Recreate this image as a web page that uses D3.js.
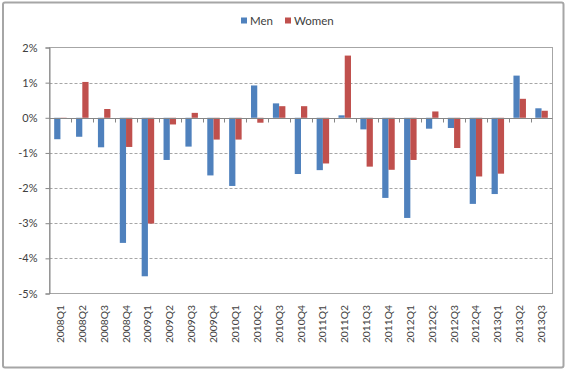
<!DOCTYPE html>
<html>
<head>
<meta charset="utf-8">
<script src="https://cdn.jsdelivr.net/npm/d3@7/dist/d3.min.js"></script>
<style>
html,body{margin:0;padding:0;background:#fff;}
svg{display:block;}
text{font-family:Lato, "Open Sans", sans-serif;fill:#404040;}
</style>
</head>
<body>
<svg id="chart" width="569" height="372"></svg>
<script>
const categories = ["2008Q1","2008Q2","2008Q3","2008Q4","2009Q1","2009Q2","2009Q3","2009Q4",
  "2010Q1","2010Q2","2010Q3","2010Q4","2011Q1","2011Q2","2011Q3","2011Q4",
  "2012Q1","2012Q2","2012Q3","2012Q4","2013Q1","2013Q2","2013Q3"];
const men = [-0.61,-0.54,-0.84,-3.56,-4.51,-1.20,-0.82,-1.64,
  -1.94,0.92,0.41,-1.60,-1.49,0.07,-0.33,-2.28,
  -2.85,-0.31,-0.29,-2.45,-2.17,1.20,0.27];
const women = [-0.03,1.02,0.25,-0.83,-3.01,-0.19,0.14,-0.62,
  -0.62,-0.14,0.33,0.33,-1.30,1.77,-1.39,-1.48,
  -1.20,0.18,-0.86,-1.67,-1.59,0.54,0.20];
const seriesNames = ["Men","Women"];
const seriesColors = ["#4F81BD","#C0504D"];
const yTicks = [2,1,0,-1,-2,-3,-4,-5];

const svg = d3.select("#chart");
const L = 49.5, R = 552.5, T = 47.5, B = 293.5;

// outer border
svg.append("rect").attr("x",3).attr("y",2.5).attr("width",560.5).attr("height",365)
  .attr("fill","#fff").attr("stroke","#a6a6a6").attr("stroke-width",2).attr("rx",2);

const x = d3.scaleBand().domain(categories).range([L,R]).padding(0);
const y = d3.scaleLinear().domain([-5,2]).range([B,T]);

// gridlines
svg.append("g").selectAll("line").data(yTicks.filter(t=>t<2 && t>-5 && t!==0)).join("line")
  .attr("x1",L).attr("x2",R)
  .attr("y1",d=>Math.round(y(d))+0.5).attr("y2",d=>Math.round(y(d))+0.5)
  .attr("stroke","#a6a6a6").attr("stroke-width",1).attr("stroke-dasharray","3,2");

// plot border
svg.append("rect").attr("x",L).attr("y",T).attr("width",R-L).attr("height",B-T)
  .attr("fill","none").attr("stroke","#a6a6a6").attr("stroke-width",1);

// y axis
const yAxis = d3.axisLeft(y).tickValues(yTicks).tickSize(4).tickPadding(8)
  .tickFormat(d=>d+"%");
const gy = svg.append("g").attr("transform",`translate(${L},0)`).call(yAxis);
gy.select(".domain").attr("stroke","#868686");
gy.selectAll(".tick line").attr("stroke","#868686");
gy.selectAll(".tick text").attr("font-size","11px").attr("fill","#404040")
  .attr("font-family","Lato, sans-serif");

// bars
const bw = x.bandwidth()/3.5;
const data = [men, women];
data.forEach((vals,si)=>{
  svg.append("g").selectAll("rect").data(vals).join("rect")
    .attr("x",(d,i)=>x(categories[i]) + x.bandwidth()/2 - bw + si*bw)
    .attr("width",bw)
    .attr("y",d=>y(Math.max(0,d)))
    .attr("height",d=>Math.abs(y(d)-y(0)))
    .attr("fill",seriesColors[si]);
});

// zero axis line with category ticks
const y0 = Math.round(y(0))+0.5;
svg.append("line").attr("x1",L).attr("x2",R).attr("y1",y0).attr("y2",y0)
  .attr("stroke","#868686");
svg.append("g").selectAll("line").data(categories.slice(1)).join("line")
  .attr("x1",d=>Math.round(x(d))+0.5).attr("x2",d=>Math.round(x(d))+0.5)
  .attr("y1",y0).attr("y2",y0+4).attr("stroke","#868686");

// x labels
svg.append("g").selectAll("text").data(categories).join("text")
  .attr("transform",d=>`translate(${x(d)+x.bandwidth()/2+3.5},305) rotate(-90)`)
  .attr("text-anchor","end")
  .attr("font-size","10.3px")
  .text(d=>d);

// legend
const leg = svg.append("g");
const legX = [241, 285];
seriesNames.forEach((n,i)=>{
  leg.append("rect").attr("x",legX[i]).attr("y",17.5).attr("width",6).attr("height",6)
    .attr("fill",seriesColors[i]);
  leg.append("text").attr("x",legX[i]+9).attr("y",25).attr("font-size","11.5px").text(n);
});
</script>
</body>
</html>
